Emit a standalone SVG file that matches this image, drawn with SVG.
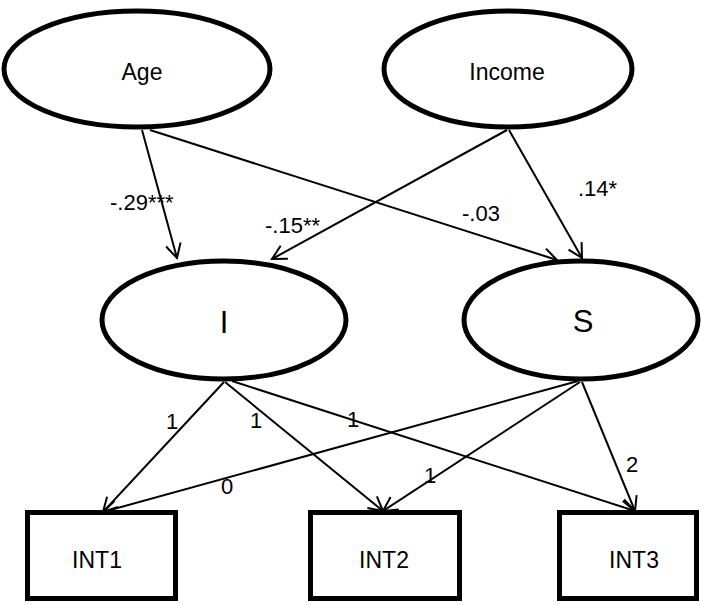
<svg xmlns="http://www.w3.org/2000/svg" width="701" height="605" viewBox="0 0 701 605">
<style>
.node{fill:#fff;stroke:#000;stroke-width:5}
.lbl{font-family:"Liberation Sans",Arial,sans-serif;fill:#000;text-anchor:middle}
.big{font-size:23px}
.huge{font-size:31px}
.el{font-family:"Liberation Sans",Arial,sans-serif;fill:#000;font-size:22px}
.c{stroke:#000;stroke-width:2;fill:none;marker-end:url(#arr)}
</style>
<defs>
<marker id="arr" markerUnits="userSpaceOnUse" markerWidth="20" markerHeight="20" viewBox="0 0 20 20" refX="16" refY="10" orient="auto">
<path d="M2,2.5 L16,10 L2,17.5" fill="none" stroke="#000" stroke-width="2"/>
</marker>
</defs>
<rect width="701" height="605" fill="#fff"/>
<g id="connectors">
<line class="c" x1="142" y1="130" x2="177" y2="258"/>
<line class="c" x1="150" y1="130" x2="557" y2="260"/>
<line class="c" x1="507" y1="130" x2="272" y2="259"/>
<line class="c" x1="509" y1="130" x2="582" y2="258"/>
<line class="c" x1="224" y1="382" x2="103" y2="512"/>
<line class="c" x1="225" y1="382" x2="383" y2="511"/>
<line class="c" x1="232" y1="381" x2="635" y2="511"/>
<line class="c" x1="578" y1="381" x2="103" y2="512"/>
<line class="c" x1="580" y1="382" x2="383" y2="511"/>
<line class="c" x1="582" y1="382" x2="635" y2="511"/>
<text class="el" x="110" y="210">-.29***</text>
<text class="el" x="265" y="233">-.15**</text>
<text class="el" x="462" y="221">-.03</text>
<text class="el" x="578" y="196">.14*</text>
<text class="el" x="166" y="429">1</text>
<text class="el" x="250" y="428">1</text>
<text class="el" x="347" y="427">1</text>
<text class="el" x="221" y="494">0</text>
<text class="el" x="424" y="483">1</text>
<text class="el" x="626" y="472">2</text>
</g>
<g id="age">
<ellipse class="node" cx="137" cy="69" rx="133" ry="58"/>
<text class="lbl big" x="142" y="80">Age</text>
</g>
<g id="income">
<ellipse class="node" cx="508" cy="69" rx="124" ry="58"/>
<text class="lbl big" x="507" y="80">Income</text>
</g>
<g id="I">
<ellipse class="node" cx="224" cy="320" rx="122" ry="59"/>
<text class="lbl huge" x="224" y="333">I</text>
</g>
<g id="S">
<ellipse class="node" cx="581" cy="320" rx="117" ry="59"/>
<text class="lbl huge" x="583" y="332">S</text>
</g>
<g id="int1">
<rect class="node" x="27.5" y="512.5" width="148" height="86"/>
<text class="lbl big" x="97" y="568">INT1</text>
</g>
<g id="int2">
<rect class="node" x="310.5" y="512.5" width="149" height="86"/>
<text class="lbl big" x="384" y="568">INT2</text>
</g>
<g id="int3">
<rect class="node" x="559.5" y="512.5" width="137" height="86"/>
<text class="lbl big" x="634" y="568">INT3</text>
</g>
</svg>
